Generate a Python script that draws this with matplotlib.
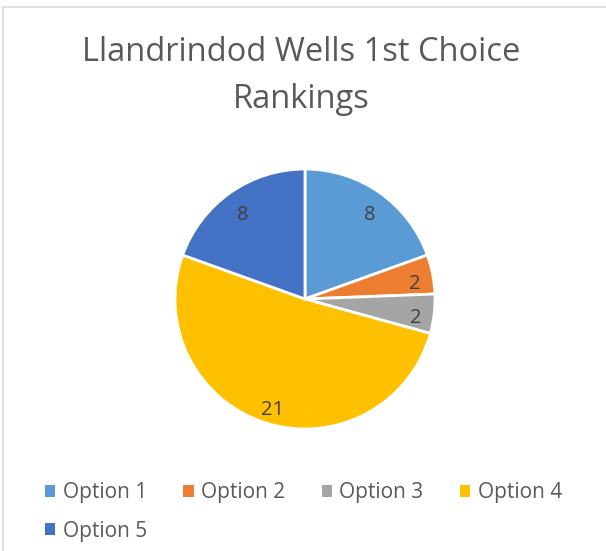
import matplotlib.pyplot as plt
import matplotlib.transforms as mtransforms
from matplotlib.patches import Patch, Rectangle

plt.rcParams['font.family'] = ['Open Sans', 'DejaVu Sans']

# data
options = ['Option 1', 'Option 2', 'Option 3', 'Option 4', 'Option 5']
votes = [8, 2, 2, 21, 8]
colors = ['#5B9BD5', '#ED7D31', '#A5A5A5', '#FFC000', '#4472C4']
title = 'Llandrindod Wells 1st Choice\nRankings'

fig = plt.figure(figsize=(6.06, 5.51), dpi=100)

# chart frame (light grey border, cut at right/bottom)
fig.patches.append(Rectangle((3 / 606, -0.05), 1.1, 1 - 7 / 551 + 0.05,
                             transform=fig.transFigure, fill=False,
                             edgecolor='#D9D9D9', linewidth=1.2))

fig.text(0.497, 1 - 76 / 551, title, ha='center', va='center',
         fontsize=23.5, color='#595959', linespacing=1.55)

ax = fig.add_axes([175 / 606, (551 - 429) / 551, 260 / 606, 260 / 551])
wedges, texts, autotexts = ax.pie(
    votes, colors=colors, startangle=90, counterclock=False,
    autopct=lambda p: '%d' % round(p * sum(votes) / 100),
    pctdistance=0.85, radius=1,
    wedgeprops=dict(edgecolor='white', linewidth=2))
for t in autotexts:
    t.set_color('#404040')
    t.set_fontsize(14.5)
    # labels sit a little lower in the original
    t.set_transform(mtransforms.offset_copy(ax.transData, fig=fig, x=1, y=-6, units='dots'))
ax.set_xlim(-1, 1)
ax.set_ylim(-1, 1)
ax.axis('off')

# legend: row-wise order for 4 columns
handles = [Patch(facecolor=c, edgecolor='none') for c in colors]
order = [0, 4, 1, 2, 3]
leg = fig.legend([handles[i] for i in order], [options[i] for i in order],
                 ncol=4, loc='upper left', bbox_to_anchor=(45 / 606, 1 - 482 / 551),
                 frameon=False, fontsize=15, handlelength=0.5, handleheight=0.5,
                 handletextpad=0.35, columnspacing=1.75, labelspacing=0.85,
                 borderpad=0, borderaxespad=0)
for t in leg.get_texts():
    t.set_color('#595959')

fig.savefig('out.png', dpi=100)
